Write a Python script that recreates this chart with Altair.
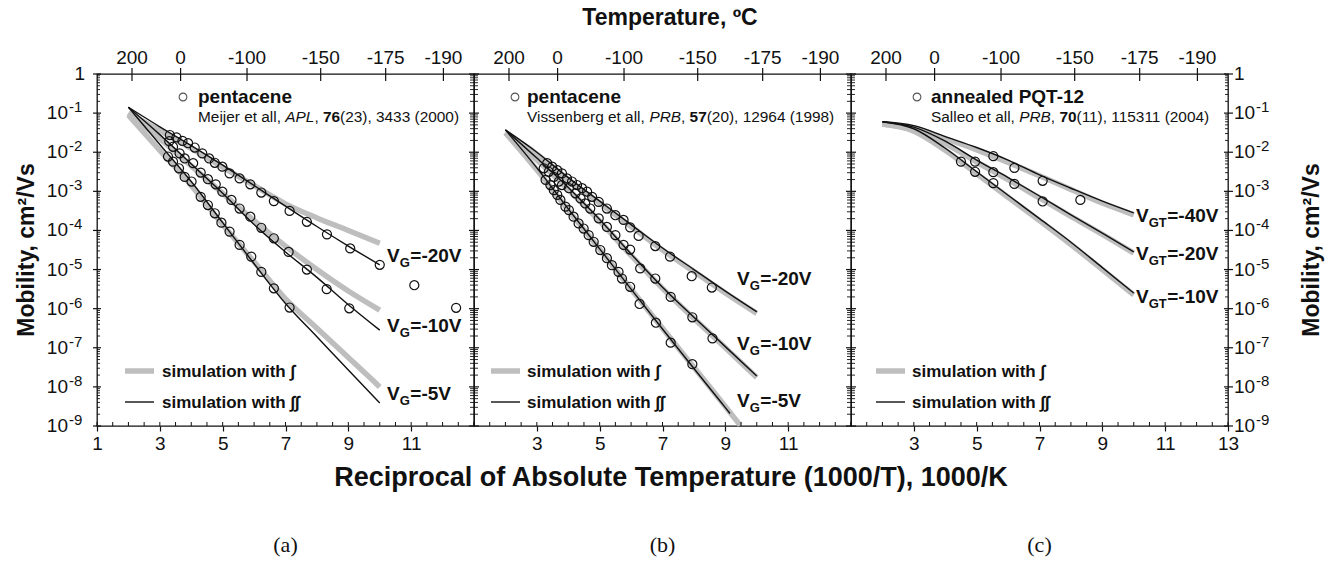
import altair as alt
import pandas as pd

FONT = "Liberation Sans"
SERIF = "Liberation Serif"
INK = "#111111"
GRAY = "#bebebe"
W, H = 377, 352

# ---------------- data ----------------
# reciprocal temperature grid (1000/K) of the simulated curves
sim_x = [2, 3, 4, 5, 6, 7, 8, 9, 10]

# (a) pentacene, Meijer et al.
a_gray = {
    "-20V": [1.0e-1, 3.55e-2, 1.26e-2, 4.17e-3, 1.41e-3, 4.79e-4, 2.09e-4, 1.0e-4, 4.68e-5],
    "-10V": [1.0e-1, 2.24e-2, 4.47e-3, 8.91e-4, 1.78e-4, 3.98e-5, 1.0e-5, 2.82e-6, 9.12e-7],
    "-5V": [8.91e-2, 1.12e-2, 1.41e-3, 1.41e-4, 1.58e-5, 1.78e-6, 3.16e-7, 5.62e-8, 1.0e-8],
}
a_black = {
    "-20V": [1.41e-1, 4.47e-2, 1.48e-2, 4.68e-3, 1.41e-3, 4.17e-4, 1.26e-4, 3.98e-5, 1.32e-5],
    "-10V": [1.41e-1, 2.82e-2, 5.01e-3, 8.91e-4, 1.41e-4, 2.82e-5, 6.31e-6, 1.26e-6, 2.82e-7],
    "-5V": [1.41e-1, 1.58e-2, 1.78e-3, 1.58e-4, 1.41e-5, 1.35e-6, 1.91e-7, 2.69e-8, 3.89e-9],
}
a_pts_x = {
    "-20V": [3.32, 3.53, 3.72, 3.90, 4.11, 4.35, 4.57, 4.75, 4.99, 5.22, 5.54, 5.88, 6.23,
             6.63, 7.13, 7.68, 8.32, 9.06, 10.0, 11.1, 12.43],
    "-10V": [3.30, 3.42, 3.63, 3.79, 4.06, 4.30, 4.53, 4.78, 4.99, 5.28, 5.54, 5.88, 6.23,
             6.63, 7.10, 7.68, 8.31, 9.03],
    "-5V": [3.26, 3.42, 3.61, 3.79, 4.01, 4.30, 4.53, 4.75, 4.96, 5.22, 5.54, 5.91, 6.23,
            6.63, 7.13],
}
a_pts_mu = {
    "-20V": [2.75e-2, 2.40e-2, 1.95e-2, 1.70e-2, 1.32e-2, 9.33e-3, 6.92e-3, 5.37e-3, 4.27e-3,
             2.88e-3, 2.14e-3, 1.51e-3, 9.33e-4, 5.62e-4, 3.16e-4, 1.66e-4, 7.94e-5, 3.47e-5,
             1.32e-5, 3.98e-6, 1.05e-6],
    "-10V": [1.91e-2, 1.38e-2, 9.33e-3, 6.92e-3, 5.25e-3, 3.02e-3, 2.04e-3, 1.51e-3, 9.77e-4,
             6.03e-4, 3.63e-4, 2.24e-4, 1.17e-4, 6.31e-5, 2.82e-5, 1.0e-5, 3.16e-6, 1.02e-6],
    "-5V": [7.76e-3, 5.75e-3, 3.89e-3, 2.34e-3, 1.78e-3, 7.24e-4, 4.47e-4, 2.75e-4, 1.58e-4,
            9.33e-5, 4.27e-5, 2.14e-5, 8.71e-6, 3.31e-6, 1.07e-6],
}

# (b) pentacene, Vissenberg et al.
b_gray_x = {"-20V": sim_x, "-10V": sim_x, "-5V": [2, 3, 4, 5, 6, 7, 8, 9, 9.47]}
b_black_x = {"-20V": sim_x, "-10V": sim_x, "-5V": [2, 3, 4, 5, 6, 7, 8, 9, 9.15]}
b_gray = {
    "-20V": [3.16e-2, 8.91e-3, 2.0e-3, 5.01e-4, 1.26e-4, 3.16e-5, 8.91e-6, 2.51e-6, 7.59e-7],
    "-10V": [3.16e-2, 6.31e-3, 1.12e-3, 1.74e-4, 2.29e-5, 3.31e-6, 5.62e-7, 1.0e-7, 1.74e-8],
    "-5V": [3.16e-2, 3.55e-3, 3.31e-4, 3.31e-5, 3.16e-6, 3.16e-7, 3.16e-8, 3.16e-9, 1.05e-9],
}
b_black = {
    "-20V": [3.72e-2, 1.0e-2, 2.24e-3, 5.62e-4, 1.41e-4, 3.55e-5, 1.0e-5, 2.82e-6, 8.32e-7],
    "-10V": [3.72e-2, 7.08e-3, 1.26e-3, 1.91e-4, 2.51e-5, 3.55e-6, 6.03e-7, 1.07e-7, 1.91e-8],
    "-5V": [3.72e-2, 3.98e-3, 3.55e-4, 3.39e-5, 3.16e-6, 3.02e-7, 2.95e-8, 2.95e-9, 2.09e-9],
}
b_pts_x = {
    "-20V": [3.33, 3.49, 3.65, 3.80, 3.96, 4.12, 4.28, 4.44, 4.60, 4.76, 4.97, 5.23, 5.50,
             5.76, 5.97, 6.24, 6.77, 7.24, 7.93, 8.57],
    "-10V": [3.22, 3.38, 3.54, 3.70, 3.80, 4.02, 4.23, 4.39, 4.54, 4.70, 4.97, 5.23, 5.50,
             5.76, 5.97, 6.29, 6.77, 7.26, 7.95, 8.59],
    "-5V": [3.28, 3.43, 3.54, 3.65, 3.75, 3.91, 4.02, 4.17, 4.33, 4.49, 4.65, 4.81, 5.02,
            5.23, 5.39, 5.60, 5.71, 5.97, 6.27, 6.79, 7.26, 7.95],
}
b_pts_mu = {
    "-20V": [5.25e-3, 4.27e-3, 3.47e-3, 2.88e-3, 2.14e-3, 1.78e-3, 1.45e-3, 1.20e-3, 9.77e-4,
             7.24e-4, 5.37e-4, 3.63e-4, 2.45e-4, 1.86e-4, 1.20e-4, 7.24e-5, 3.98e-5, 2.14e-5,
             6.76e-6, 3.47e-6],
    "-10V": [3.89e-3, 3.16e-3, 2.34e-3, 1.78e-3, 1.45e-3, 1.20e-3, 8.91e-4, 6.61e-4, 4.90e-4,
             3.63e-4, 2.04e-4, 1.23e-4, 7.59e-5, 4.27e-5, 3.24e-5, 1.07e-5, 5.89e-6, 2.0e-6,
             6.03e-7, 1.74e-7],
    "-5V": [1.95e-3, 1.45e-3, 1.07e-3, 8.13e-4, 6.03e-4, 4.07e-4, 3.31e-4, 2.24e-4, 1.51e-4,
            1.12e-4, 7.59e-5, 5.13e-5, 3.16e-5, 1.95e-5, 1.29e-5, 8.71e-6, 5.89e-6, 3.63e-6,
            1.32e-6, 4.37e-7, 1.35e-7, 3.80e-8],
}

# (c) annealed PQT-12, Salleo et al.
c_gray = {
    "-40V": [5.25e-2, 4.17e-2, 2.24e-2, 1.15e-2, 5.50e-3, 2.51e-3, 1.12e-3, 5.01e-4, 2.51e-4],
    "-20V": [5.25e-2, 3.80e-2, 1.66e-2, 5.62e-3, 2.0e-3, 6.76e-4, 2.29e-4, 7.94e-5, 2.63e-5],
    "-10V": [5.25e-2, 3.47e-2, 1.12e-2, 2.82e-3, 7.08e-4, 1.78e-4, 4.37e-5, 1.0e-5, 2.24e-6],
}
c_black = {
    "-40V": [6.03e-2, 4.79e-2, 2.51e-2, 1.32e-2, 6.31e-3, 2.63e-3, 1.20e-3, 5.62e-4, 2.82e-4],
    "-20V": [6.03e-2, 4.37e-2, 1.91e-2, 6.31e-3, 2.24e-3, 7.59e-4, 2.51e-4, 8.51e-5, 2.82e-5],
    "-10V": [6.03e-2, 3.98e-2, 1.26e-2, 3.16e-3, 7.94e-4, 2.0e-4, 5.01e-5, 1.12e-5, 2.51e-6],
}
c_pts_x = {
    "-40V": [5.53, 6.20, 7.10, 8.30],
    "-20V": [4.95, 5.53, 6.20, 7.10],
    "-10V": [4.50, 4.95, 5.53],
}
c_pts_mu = {
    "-40V": [7.94e-3, 3.98e-3, 1.86e-3, 6.03e-4],
    "-20V": [5.75e-3, 3.09e-3, 1.55e-3, 5.50e-4],
    "-10V": [5.75e-3, 3.16e-3, 1.62e-3],
}

# axis ticks and labels
temps_c = [200, 0, -100, -150, -175, -190]
temp_labels = ["200", "0", "-100", "-150", "-175", "-190"]
decade_exps = [-9, -8, -7, -6, -5, -4, -3, -2, -1]

# ---------------- helpers ----------------
# Arial / Liberation Sans advance widths (em units) for mixed-style runs
REG = {" ": .278, ",": .278, "(": .333, ")": .333, "A": .667, "B": .667, "L": .556,
       "M": .833, "P": .667, "R": .722, "S": .667, "V": .667, "a": .556, "b": .556,
       "e": .556, "g": .556, "i": .222, "j": .222, "l": .222, "n": .556, "o": .556,
       "r": .333, "s": .5, "t": .278}
BOLD = {"V": .667, "G": .778, "T": .611}


def text_w(s, size, table):
    return size * sum(table.get(ch, .556) for ch in s)


xscale = alt.Scale(domain=[1, 13], nice=False, zero=False)
yscale = alt.Scale(type="log", domain=[1e-9, 1], nice=False)
y_enc = alt.Y("mu:Q", scale=yscale, axis=None)

x_half = [1 + 0.5 * i for i in range(25)]
top_x = [1000.0 / (t + 273.15) for t in temps_c]
y_major = [10.0 ** k for k in range(-9, 1)]
y_minor = [m * 10.0 ** k for k in range(-9, 0) for m in range(2, 10)]


def frame(xs, mus):
    rows = []
    for s in mus:
        for x, m in zip(xs[s], mus[s]):
            rows.append({"series": s, "x": x, "mu": m})
    return pd.DataFrame(rows)


def txt(text, x, y, size, weight="normal", style="normal", align="left",
        baseline="alphabetic", font=FONT, angle=0):
    return alt.Chart(pd.DataFrame({"t": [text]})).mark_text(
        align=align, baseline=baseline, font=font, fontSize=size, fontWeight=weight,
        fontStyle=style, angle=angle, color=INK
    ).encode(x=alt.value(x), y=alt.value(y), text="t:N")


def hticks(values, x0, x1, width=1.0):
    return alt.Chart(pd.DataFrame({"mu": values})).mark_rule(
        color=INK, strokeWidth=width
    ).encode(x=alt.value(x0), x2=alt.value(x1), y=y_enc)


def edge_ticks(x, lo_major, hi_major, lo_minor, hi_minor):
    return [hticks(y_major, x + lo_major, x + hi_major, 1.2),
            hticks(y_minor, x + lo_minor, x + hi_minor, 0.9)]


def citation(parts, x0, y, size=15.4):
    layers = []
    x = x0
    for s, weight, style in parts:
        layers.append(txt(s, x, y, size, weight=weight, style=style))
        x += text_w(s, size, REG)
    return layers


def gate_label(sub, tail, x0, y):
    big, small = 19, 13
    wv = text_w("V", big, BOLD)
    ws = text_w(sub, small, BOLD)
    return [txt("V", x0, y, big, weight="bold"),
            txt(sub, x0 + wv, y + 5, small, weight="bold"),
            txt(tail, x0 + wv + ws + 0.5, y, big, weight="bold")]


def legend(x0, text_x):
    return [
        alt.Chart(pd.DataFrame({"k": [0]})).mark_rule(color=GRAY, strokeWidth=5.5).encode(
            x=alt.value(x0), x2=alt.value(x0 + 29), y=alt.value(297)),
        alt.Chart(pd.DataFrame({"k": [0]})).mark_rule(color=INK, strokeWidth=1.4).encode(
            x=alt.value(x0), x2=alt.value(x0 + 29), y=alt.value(328)),
        txt("simulation with ∫", text_x, 303, 17, weight="bold"),
        txt("simulation with ∫∫", text_x, 334, 17, weight="bold"),
    ]


def sample_heading(cx, text_x, title, cite_parts):
    mark = alt.Chart(pd.DataFrame({"k": [0]})).mark_point(
        shape="circle", filled=False, color=INK, size=60, strokeWidth=1.1
    ).encode(x=alt.value(cx), y=alt.value(23))
    return [mark, txt(title, text_x, 29, 19, weight="bold")] + citation(cite_parts, text_x, 48)


def panel(gray_df, black_df, pts_df, axis_vals, extra):
    x_enc = alt.X(
        "x:Q", scale=xscale,
        axis=alt.Axis(values=axis_vals, title=None, grid=False, domain=False, tickSize=5,
                      tickColor=INK, tickWidth=1.2, labelFont=FONT, labelFontSize=19,
                      labelColor=INK, labelPadding=3, labelFlush=False,
                      labelOverlap=False, format="d"))
    gray = alt.Chart(gray_df).mark_line(
        color=GRAY, strokeWidth=5.5, interpolate="monotone"
    ).encode(x=x_enc, y=y_enc, detail="series:N")
    black = alt.Chart(black_df).mark_line(
        color=INK, strokeWidth=1.4, interpolate="monotone"
    ).encode(x=x_enc, y=y_enc, detail="series:N")
    pts = alt.Chart(pts_df).mark_point(
        shape="circle", filled=False, color=INK, size=82, strokeWidth=1.2, opacity=1
    ).encode(x=x_enc, y=y_enc)
    bottom_minor = alt.Chart(pd.DataFrame({"x": x_half})).mark_rule(
        color=INK, strokeWidth=1).encode(x=x_enc, y=alt.value(H - 4), y2=alt.value(H))
    tdf = pd.DataFrame({"x": top_x, "lab": temp_labels})
    top_ticks = alt.Chart(tdf).mark_rule(color=INK, strokeWidth=1.2).encode(
        x=x_enc, y=alt.value(-6), y2=alt.value(7))
    top_labels = alt.Chart(tdf).mark_text(
        font=FONT, fontSize=19, color=INK, baseline="alphabetic"
    ).encode(x=x_enc, y=alt.value(-10), text="lab:N")
    layers = [gray, black, pts, bottom_minor, top_ticks, top_labels] + extra
    return alt.layer(*layers).properties(width=W, height=H)


exp_df = pd.DataFrame({"mu": [10.0 ** k for k in decade_exps],
                       "e": [str(k) for k in decade_exps]})


def y_labels_left():
    tens = alt.Chart(exp_df).mark_text(
        align="right", baseline="middle", font=FONT, fontSize=19, color=INK
    ).encode(x=alt.value(-29), y=y_enc, text=alt.value("10"))
    exps = alt.Chart(exp_df).mark_text(
        align="left", baseline="middle", font=FONT, fontSize=15, color=INK, dy=-6
    ).encode(x=alt.value(-28), y=y_enc, text="e:N")
    return [tens, exps, txt("1", -12, 0, 19, align="right", baseline="middle")]


def y_labels_right():
    x0 = W + 6
    tens = alt.Chart(exp_df).mark_text(
        align="left", baseline="middle", font=FONT, fontSize=19, color=INK
    ).encode(x=alt.value(x0), y=y_enc, text=alt.value("10"))
    exps = alt.Chart(exp_df).mark_text(
        align="left", baseline="middle", font=FONT, fontSize=15, color=INK, dy=-6
    ).encode(x=alt.value(x0 + 22), y=y_enc, text="e:N")
    return [tens, exps, txt("1", x0, 0, 19, baseline="middle")]


def same_grid(keys):
    return {k: sim_x for k in keys}


# ---------------- panels ----------------
a_extra = (
    edge_ticks(0, -4, 4, 0, 3) + edge_ticks(W, -5, 5, -4, 4) + y_labels_left()
    + sample_heading(86, 101, "pentacene",
                     [("Meijer et all, ", "normal", "normal"), ("APL", "normal", "italic"),
                      (", ", "normal", "normal"), ("76", "bold", "normal"),
                      ("(23), 3433 (2000)", "normal", "normal")])
    + gate_label("G", "=-20V", 290, 188) + gate_label("G", "=-10V", 290, 258)
    + gate_label("G", "=-5V", 290, 326) + legend(28, 65)
    + [txt("Mobility, cm²/Vs", -70, H / 2, 23, weight="bold", align="center",
           baseline="middle", angle=270),
       txt("(a)", W / 2, 478, 22, align="center", font=SERIF)]
)
pa = panel(frame(same_grid(a_gray), a_gray), frame(same_grid(a_black), a_black),
           frame(a_pts_x, a_pts_mu), [1, 3, 5, 7, 9, 11], a_extra)

b_extra = (
    edge_ticks(W, -5, 5, -4, 4)
    + sample_heading(41, 53, "pentacene",
                     [("Vissenberg et all, ", "normal", "normal"), ("PRB", "normal", "italic"),
                      (", ", "normal", "normal"), ("57", "bold", "normal"),
                      ("(20), 12964 (1998)", "normal", "normal")])
    + gate_label("G", "=-20V", 263, 211) + gate_label("G", "=-10V", 263, 276)
    + gate_label("G", "=-5V", 263, 333) + legend(17, 53)
    + [txt("Temperature, ºC", 196, -56, 23, weight="bold", align="center",
           baseline="middle"),
       txt("Reciprocal of Absolute Temperature (1000/T), 1000/K", 197, 404, 27,
           weight="bold", align="center", baseline="middle"),
       txt("(b)", W / 2, 478, 22, align="center", font=SERIF)]
)
pb = panel(frame(b_gray_x, b_gray), frame(b_black_x, b_black),
           frame(b_pts_x, b_pts_mu), [3, 5, 7, 9, 11], b_extra)

c_extra = (
    edge_ticks(W, -4, 5, -3, 0) + y_labels_right()
    + sample_heading(66, 80, "annealed PQT-12",
                     [("Salleo et all, ", "normal", "normal"), ("PRB", "normal", "italic"),
                      (", ", "normal", "normal"), ("70", "bold", "normal"),
                      ("(11), 115311 (2004)", "normal", "normal")])
    + gate_label("GT", "=-40V", 285, 148) + gate_label("GT", "=-20V", 285, 186)
    + gate_label("GT", "=-10V", 285, 229) + legend(25, 61)
    + [txt("Mobility, cm²/Vs", W + 84, H / 2, 23, weight="bold", align="center",
           baseline="middle", angle=270),
       txt("(c)", W / 2, 478, 22, align="center", font=SERIF)]
)
pc = panel(frame(same_grid(c_gray), c_gray), frame(same_grid(c_black), c_black),
           frame(c_pts_x, c_pts_mu), [3, 5, 7, 9, 11, 13], c_extra)

chart = alt.hconcat(pa, pb, pc, spacing=0, bounds="flush").properties(
    padding={"left": 15, "top": 6, "right": 5, "bottom": 5},
    background="white",
).configure_view(stroke=INK, strokeWidth=1.3)

chart.save("out.html", embed_options={"renderer": "svg", "actions": False})
